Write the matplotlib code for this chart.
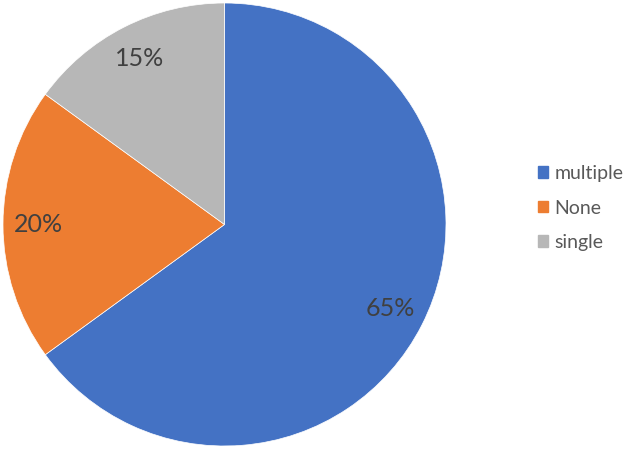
import matplotlib
matplotlib.use("Agg")
import matplotlib.pyplot as plt
from matplotlib.patches import Patch

categories = ["multiple", "None", "single"]
values = [65, 20, 15]
colors = ["#4472C4", "#ED7D31", "#B7B7B7"]

plt.rcParams['font.family'] = ['Lato', 'DejaVu Sans']

fig = plt.figure(figsize=(6.24, 4.5), dpi=100)
ax = fig.add_axes([3/624, 4/450, 443/624, 443/450])
wedges, texts, autotexts = ax.pie(
    values, colors=colors, startangle=90, counterclock=False,
    autopct=lambda p: f"{p:.0f}%", pctdistance=0.84, radius=1,
    wedgeprops=dict(linewidth=0.5, edgecolor="white"),
    textprops=dict(color="#404040", fontsize=18))
ax.set_xlim(-1, 1)
ax.set_ylim(-1, 1)
ax.set_aspect("equal")
ax.axis("off")

handles = [Patch(facecolor=c, edgecolor=c) for c in colors]
fig.legend(handles, categories, loc="center left",
           bbox_to_anchor=(524/624, (450 - 208)/450), frameon=False,
           fontsize=14, labelcolor="#595959",
           handlelength=0.55, handleheight=0.55, handletextpad=0.3,
           labelspacing=0.9, borderpad=0.2)

fig.savefig("out.png", dpi=100)
